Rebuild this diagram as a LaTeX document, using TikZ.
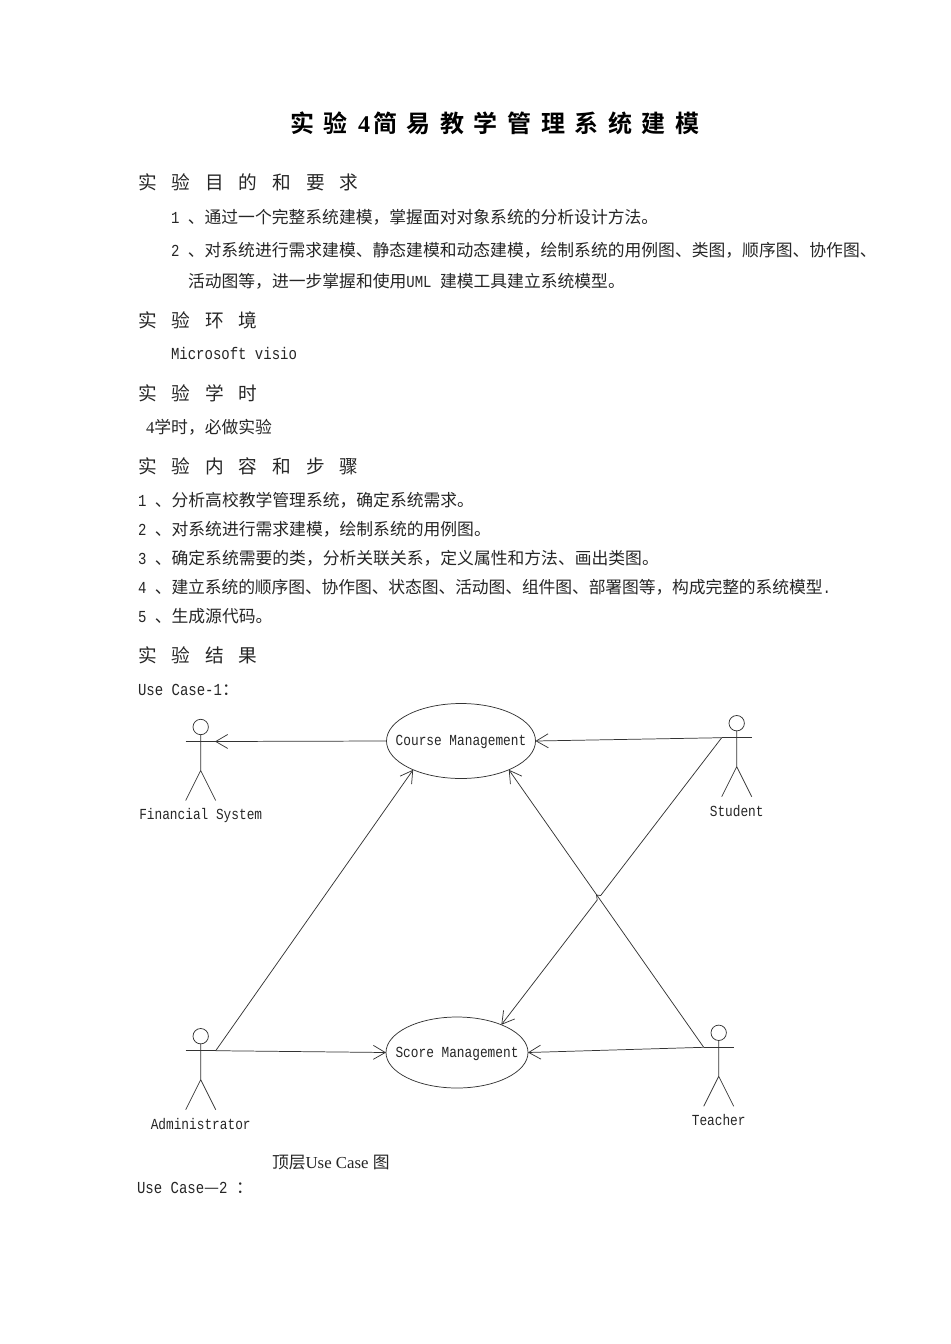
\documentclass[tikz,border=0pt]{standalone}
\usepackage{fontspec}
\usetikzlibrary{shapes.geometric,arrows.meta}
\setmainfont{Noto Sans CJK SC}
\newfontfamily\mo[FakeStretch=0.8333]{Liberation Mono}
\newfontfamily\md[FakeStretch=0.8333]{Liberation Mono}
\newfontfamily\se{Liberation Serif}
\newfontfamily\headf[LetterSpace=80]{Noto Sans CJK SC}
\newfontfamily\tightf[LetterSpace=-0.65]{Noto Sans CJK SC}
\newfontfamily\titlef[LetterSpace=40,BoldFont={Noto Sans CJK SC Bold}]{Noto Sans CJK SC Bold}
\newcommand{\bodysize}{\fontsize{12.6pt}{15pt}\selectfont}
\newcommand{\zerow}[1]{\makebox[0pt][c]{\smash{\raisebox{-3.5pt}{#1}}}}
\tikzset{
  x=0.75pt,y=-0.75pt,
  body/.style={anchor=base west,inner sep=0pt,outer sep=0pt,font=\bodysize,text=black!85},
  heading/.style={anchor=base west,inner sep=0pt,outer sep=0pt,font=\headf\fontsize{14pt}{16pt}\selectfont,text=black!85},
  titletext/.style={anchor=base west,inner sep=0pt,outer sep=0pt,font=\titlef\fontsize{18pt}{20pt}\selectfont},
  diaglabel/.style={inner sep=0pt,outer sep=0pt,font=\md\fontsize{11.52pt}{13pt}\selectfont,text=black!85},
  usecase/.style={ellipse,draw=black!80,line width=0.55pt,inner sep=0pt,outer sep=0pt,font=\md\fontsize{11.52pt}{13pt}\selectfont,text=black!85},
  link/.style={draw=black!80,line width=0.55pt,-{Straight Barb[length=9pt,width=10.5pt]}},
  actorline/.style={draw=black!80,line width=0.55pt},
  actor/.pic={
    \draw[actorline] (0,-14.5) circle[radius=7.7];
    \draw[actorline] (0,-6.8) -- (0,29) (0,29) -- (-15,59) (0,29) -- (15,59);
    \draw[actorline] (-15,0) -- (15,0);
    \coordinate (-armL) at (-15,0);
    \coordinate (-armR) at (15,0);
  }
}
\begin{document}
\begin{tikzpicture}
\useasboundingbox (0,0) rectangle (950,1344);
\fill[white] (0,0) rectangle (950,1344);
% title
\node[titletext] (t1) at (290,133) {实验};
\node[titletext] (t2) at (358,133) {\se\bfseries 4};
\node[titletext] (t3) at (373,133) {简易教学管理系统建模};
% section 1
\node[heading] (h1) at (138,190) {实验目的和要求};
\node[body] (l1) at (171,224) {{\mo 1 }、通过一个完整系统建模，掌握面对对象系统的分析设计方法。};
\node[body] (l2) at (171,257) {{\mo 2 }、对系统进行需求建模、静态建模和动态建模，绘制系统的用例图、类图，顺序图、协作图、};
\node[body] (l3) at (188,287) {活动图等，进一步掌握和使用{\mo UML }建模工具建立系统模型。};
\node[heading] (h2) at (138,327) {实验环境};
\node[body] (l4) at (171,359) {\mo Microsoft visio};
\node[heading] (h3) at (138,400) {实验学时};
\node[body] (l5) at (146,433) {{\se 4}学时，必做实验};
\node[heading] (h4) at (138,473) {实验内容和步骤};
\node[body] (l6) at (138,506) {{\mo 1 }、分析高校教学管理系统，确定系统需求。};
\node[body] (l7) at (138,535) {{\mo 2 }、对系统进行需求建模，绘制系统的用例图。};
\node[body] (l8) at (138,564) {{\mo 3 }、确定系统需要的类，分析关联关系，定义属性和方法、画出类图。};
\node[body] (l9) at (138,593) {{\mo 4 }{\tightf 、建立系统的顺序图、协作图、状态图、活动图、组件图、部署图等，构成完整的系统模型}{\mo .}};
\node[body] (l10) at (138,622) {{\mo 5 }、生成源代码。};
\node[heading] (h5) at (138,662) {实验结果};
\node[body] (l11) at (138,695) {{\mo Use Case-1}：};
% diagram
\node[usecase,minimum width=111.75pt,minimum height=56.25pt] (course) at (461,741) {\zerow{Course Management}};
\node[usecase,minimum width=106.5pt,minimum height=53.25pt] (score) at (457,1052.5) {\zerow{Score Management}};
\pic (fin) at (200.7,741.5) {actor};
\pic (stu) at (736.7,737.7) {actor};
\pic (tea) at (718.7,1047.3) {actor};
\pic (adm) at (200.7,1050.7) {actor};
\node[diaglabel] (finl) at (200.7,816) {Financial System};
\node[diaglabel] (stul) at (736.7,811) {Student};
\node[diaglabel] (teal) at (718.7,1120) {Teacher};
\node[diaglabel] (adml) at (200.7,1124) {Administrator};
\coordinate (finarm) at (215,741.5);
\coordinate (hopa) at (600.7,895.5);
\coordinate (hopb) at (596.5,895);
\coordinate (hopc) at (597.2,900);
\draw[link] (course.west) -- (finarm);
\draw[link] (stu-armL) -- (course.east);
\draw[link] (stu-armL) -- (hopa) -- (hopb) -- (hopc) -- (score.32);
\draw[link] (tea-armL) -- (course.329);
\draw[link] (tea-armL) -- (score.east);
\draw[link] (adm-armR) -- (course.211);
\draw[link] (adm-armR) -- (score.west);
% caption
\node[body] (cap) at (272,1168) {顶层{\se Use Case }图};
\node[body] (l12) at (137,1193) {{\mo Use Case}—{\mo 2 }：};
\end{tikzpicture}
\end{document}
